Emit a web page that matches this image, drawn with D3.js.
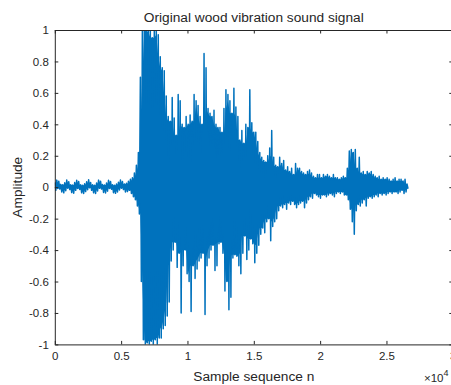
<!DOCTYPE html>
<html><head><meta charset="utf-8">
<script src="https://cdn.jsdelivr.net/npm/d3@7"></script>
<style>
html,body{margin:0;padding:0;background:#fff;overflow:hidden}
text{font-family:"Liberation Sans",Arial,Helvetica,sans-serif;fill:#262626}
</style></head>
<body>
<svg id="chart" width="451" height="385"></svg>
<script>
// ---- data ----
const title = "Original wood vibration sound signal";
const xLabel = "Sample sequence n";
const yLabel = "Amplitude";
const sampleStep = 150;            // samples between envelope readings
// upper envelope (per-column max) of the signal
const upper = [
 0.03,0.045,0.038,0.018,0.015,0.028,0.046,0.035,0.016,0.014,
 0.03,0.044,0.036,0.015,0.012,0.022,0.034,0.047,0.03,0.015,
 0.013,0.027,0.045,0.038,0.017,0.014,0.026,0.044,0.037,0.016,
 0.013,0.02,0.032,0.046,0.036,0.02,0.025,0.038,0.05,0.06,
 0.09,0.14,0.22,0.7,1.0,1.0,1.0,0.99,1.0,0.95,
 1.0,1.0,0.97,0.83,0.76,0.74,0.58,0.45,0.42,0.57,
 0.44,0.33,0.59,0.55,0.40,0.38,0.45,0.40,0.46,0.42,
 0.59,0.55,0.52,0.45,0.40,0.85,0.76,0.50,0.47,0.45,
 0.49,0.40,0.38,0.38,0.35,0.50,0.62,0.59,0.55,0.47,
 0.63,0.51,0.45,0.30,0.36,0.28,0.40,0.38,0.62,0.41,
 0.35,0.35,0.29,0.22,0.19,0.17,0.16,0.20,0.25,0.36,
 0.19,0.14,0.13,0.19,0.15,0.17,0.11,0.13,0.10,0.12,
 0.08,0.15,0.12,0.12,0.10,0.09,0.08,0.10,0.11,0.09,
 0.07,0.06,0.08,0.08,0.06,0.08,0.07,0.08,0.07,0.06,
 0.08,0.06,0.06,0.05,0.06,0.07,0.06,0.12,0.23,0.24,
 0.22,0.24,0.12,0.19,0.09,0.10,0.08,0.10,0.09,0.10,
 0.08,0.07,0.06,0.07,0.05,0.06,0.05,0.06,0.05,0.04,
 0.05,0.06,0.04,0.05,0.05,0.04,0.05,0.02
];
// lower envelope (per-column min) of the signal
const lower = [
 -0.02,-0.008,-0.012,-0.03,-0.036,-0.022,-0.006,-0.015,-0.034,-0.038,
 -0.02,-0.008,-0.014,-0.036,-0.04,-0.028,-0.016,-0.004,-0.02,-0.036,
 -0.04,-0.024,-0.007,-0.012,-0.033,-0.037,-0.025,-0.008,-0.013,-0.035,
 -0.039,-0.03,-0.018,-0.006,-0.015,-0.03,-0.028,-0.02,-0.04,-0.06,
 -0.08,-0.12,-0.17,-0.6,-0.97,-1.0,-0.99,-1.0,-0.98,-1.0,
 -0.97,-1.0,-0.96,-0.96,-0.90,-0.88,-0.82,-0.73,-0.47,-0.40,
 -0.35,-0.51,-0.42,-0.80,-0.50,-0.40,-0.55,-0.60,-0.79,-0.50,
 -0.58,-0.52,-0.47,-0.45,-0.42,-0.81,-0.50,-0.45,-0.40,-0.37,
 -0.53,-0.50,-0.36,-0.35,-0.42,-0.66,-0.60,-0.78,-0.70,-0.45,
 -0.43,-0.44,-0.50,-0.55,-0.42,-0.31,-0.46,-0.40,-0.33,-0.36,
 -0.48,-0.42,-0.37,-0.30,-0.26,-0.29,-0.22,-0.20,-0.34,-0.25,
 -0.22,-0.20,-0.15,-0.12,-0.13,-0.11,-0.14,-0.10,-0.11,-0.09,
 -0.11,-0.13,-0.11,-0.10,-0.09,-0.13,-0.10,-0.08,-0.06,-0.07,
 -0.04,-0.05,-0.06,-0.07,-0.05,-0.05,-0.06,-0.05,-0.04,-0.05,
 -0.06,-0.04,-0.03,-0.04,-0.03,-0.05,-0.05,-0.08,-0.14,-0.22,
 -0.30,-0.15,-0.11,-0.12,-0.10,-0.08,-0.12,-0.07,-0.06,-0.07,
 -0.06,-0.05,-0.06,-0.04,-0.05,-0.04,-0.05,-0.04,-0.03,-0.04,
 -0.03,-0.03,-0.04,-0.03,-0.02,-0.04,-0.03,-0.01
];
const xTicks = [0,5000,10000,15000,20000,25000,30000];
const xTickLabels = ["0","0.5","1","1.5","2","2.5","3"];
const yTicks = [-1,-0.8,-0.6,-0.4,-0.2,0,0.2,0.4,0.6,0.8,1];
const yTickLabels = ["-1","-0.8","-0.6","-0.4","-0.2","0","0.2","0.4","0.6","0.8","1"];

// ---- layout ----
const L = 54.8, R = 452.8, T = 30, B = 344.4;
const axisColor = "#262626";
const lineColor = "#0072BD";
const svg = d3.select("#chart");

const x = d3.scaleLinear().domain([0, 30000]).range([L, R]);
const y = d3.scaleLinear().domain([-1, 1]).range([B, T]);

svg.append("defs").append("clipPath").attr("id","clip")
  .append("rect").attr("x", L).attr("y", T).attr("width", R - L).attr("height", B - T);
const plot = svg.append("g").attr("clip-path","url(#clip)");

// dense core: the band that every neighbouring column covers
const core = upper.map((u, i) => {
  const a = Math.max(0, i - 1), b = Math.min(upper.length - 1, i + 1);
  return {
    n: i * sampleStep,
    hi: d3.min(upper.slice(a, b + 1)),
    lo: d3.max(lower.slice(a, b + 1))
  };
});
plot.append("path").datum(core)
  .attr("fill", lineColor)
  .attr("d", d3.area().x(d => x(d.n)).y0(d => y(d.lo)).y1(d => y(d.hi)));

// signal trace: alternate between per-column max and min
const pts = [];
upper.forEach((u, i) => {
  pts.push([i * sampleStep, u]);
  pts.push([i * sampleStep + sampleStep / 2, lower[i]]);
});
plot.append("path")
  .datum(pts)
  .attr("fill","none")
  .attr("stroke", lineColor)
  .attr("stroke-width", 1.5)
  .attr("stroke-linejoin","round")
  .attr("d", d3.line().x(d => x(d[0])).y(d => y(d[1])));

// axes
const tickLen = 3.5;
const fs = 11.5;
const xAxisB = d3.axisBottom(x).tickValues(xTicks).tickFormat((d,i)=>xTickLabels[i])
  .tickSizeInner(-tickLen).tickSizeOuter(0).tickPadding(7);
const gx = svg.append("g").attr("transform",`translate(0,${B})`).call(xAxisB);
const xAxisT = d3.axisTop(x).tickValues(xTicks).tickFormat("").tickSizeInner(-tickLen).tickSizeOuter(0);
const gxt = svg.append("g").attr("transform",`translate(0,${T})`).call(xAxisT);
const yAxisL = d3.axisLeft(y).tickValues(yTicks).tickFormat((d,i)=>yTickLabels[i])
  .tickSizeInner(-tickLen).tickSizeOuter(0).tickPadding(6);
const gy = svg.append("g").attr("transform",`translate(${L},0)`).call(yAxisL);
const yAxisR = d3.axisRight(y).tickValues(yTicks).tickFormat("").tickSizeInner(-tickLen).tickSizeOuter(0);
const gyr = svg.append("g").attr("transform",`translate(${R},0)`).call(yAxisR);
[gx,gxt,gy,gyr].forEach(g => {
  g.select(".domain").attr("stroke", axisColor).attr("stroke-width", 1);
  g.selectAll(".tick line").attr("stroke", axisColor).attr("stroke-width", 1);
  g.selectAll("text").attr("fill", axisColor).attr("font-size", fs)
    .attr("font-family","'Liberation Sans',Arial,sans-serif");
});

// titles
svg.append("text").attr("x", (L + R) / 2).attr("y", 22).attr("text-anchor","middle")
  .attr("font-size", 13.7).text(title);
svg.append("text").attr("x", (L + R) / 2).attr("y", 381).attr("text-anchor","middle")
  .attr("font-size", 13.7).text(xLabel);
svg.append("text").attr("transform",`translate(22,${(T + B) / 2}) rotate(-90)`)
  .attr("text-anchor","middle").attr("font-size", 13.7).text(yLabel);
// exponent
const ex = svg.append("text").attr("x", 424).attr("y", 382).attr("font-size", 11.5);
ex.append("tspan").text("\u00d710");
ex.append("tspan").attr("dy", -6).attr("font-size", 9).text("4");
</script>
</body></html>
